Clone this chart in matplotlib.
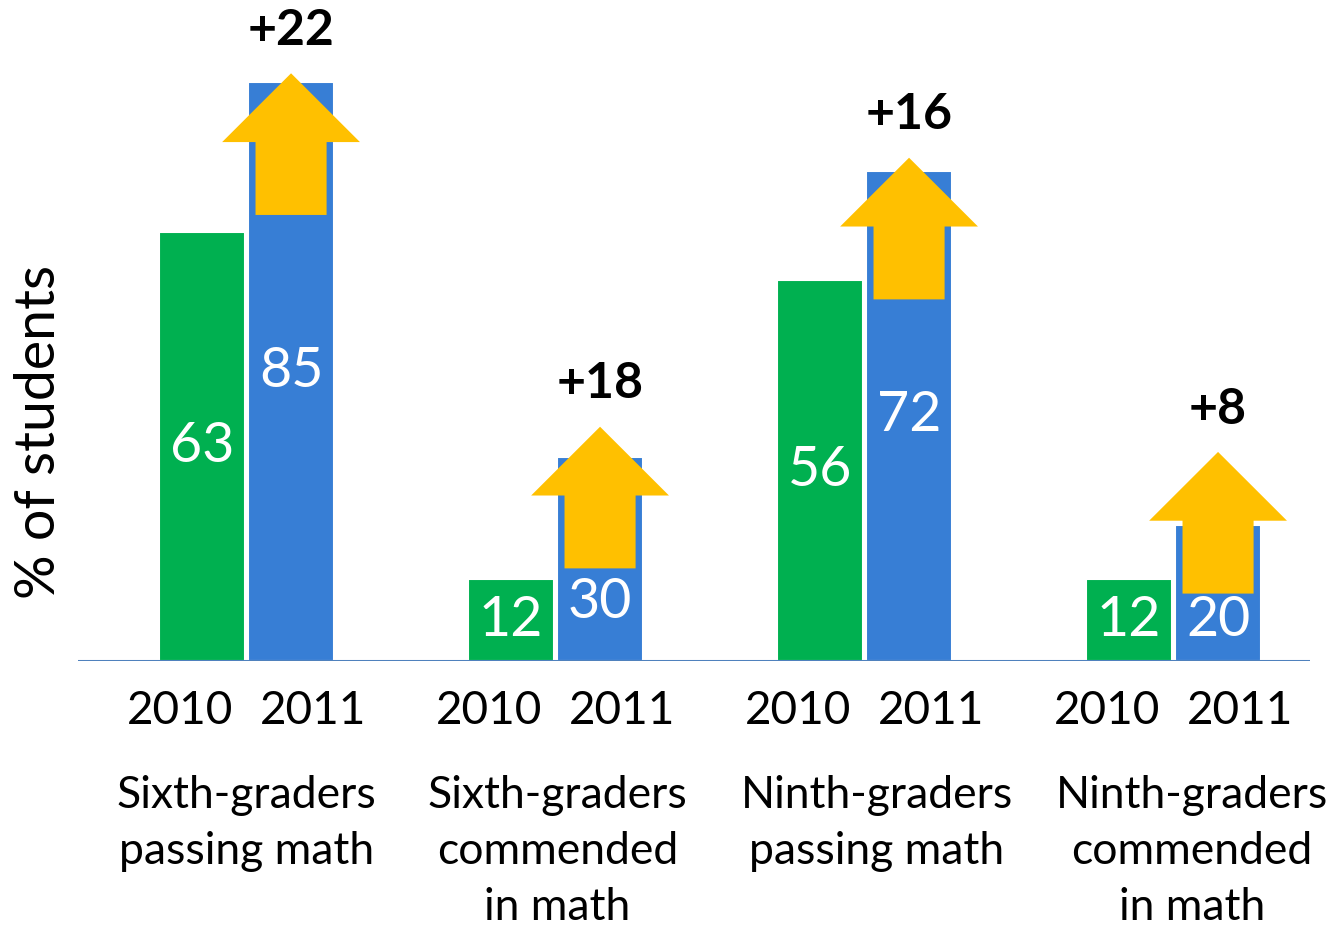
import matplotlib.pyplot as plt
from matplotlib.patches import Polygon

# data
groups = ["Sixth-graders\npassing math", "Sixth-graders\ncommended\nin math",
          "Ninth-graders\npassing math", "Ninth-graders\ncommended\nin math"]
years = ["2010", "2011"]
vals_2010 = [63, 12, 56, 12]
vals_2011 = [85, 30, 72, 20]
changes = ["+22", "+18", "+16", "+8"]

# layout of the yellow arrows (tip in data units) and label nudges
arrow_tips = [86.3, 34.4, 73.9, 30.7]
label_dx = [0.0, 0.007, 0.04, 0.06]
HEAD_H, SHAFT_H = 10.1, 10.7
HEAD_W, SHAFT_W = 0.223, 0.115

GREEN = "#00B050"
BLUE = "#377ED5"
YELLOW = "#FFC000"

plt.rcParams["font.family"] = ["Lato", "DejaVu Sans"]

fig = plt.figure(figsize=(13.34, 9.3), dpi=100)
ax = fig.add_axes([78 / 1334, 269 / 930, 1232 / 1334, 661 / 930])

w = 0.278
off = 0.1445
xs = list(range(len(groups)))
ax.bar([x - off for x in xs], vals_2010, width=w, color=GREEN,
       edgecolor="white", linewidth=1.5, zorder=2)
ax.bar([x + off for x in xs], vals_2011, width=w, color=BLUE,
       edgecolor="white", linewidth=1.5, zorder=2)

for i, x in enumerate(xs):
    tip = arrow_tips[i]
    cx = x + off
    base = tip - HEAD_H
    bottom = base - SHAFT_H
    pts = [(cx, tip), (cx + HEAD_W, base), (cx + SHAFT_W, base),
           (cx + SHAFT_W, bottom), (cx - SHAFT_W, bottom),
           (cx - SHAFT_W, base), (cx - HEAD_W, base)]
    ax.add_patch(Polygon(pts, closed=True, color=YELLOW, zorder=3, lw=0))
    ax.text(cx, tip + 6.3, changes[i], ha="center", va="center",
            fontsize=36, fontweight="bold", color="black")

    v0, v1 = vals_2010[i], vals_2011[i]
    ax.text(x - off, v0 / 2, str(v0), ha="center", va="center",
            fontsize=40, color="white", zorder=4)
    y1 = min(v1 / 2, max(bottom - 5, 6))
    ax.text(cx, y1, str(v1), ha="center", va="center",
            fontsize=40, color="white", zorder=4)

    # year labels and category labels under the axis
    ax.text(x - 0.215, -7.3, years[0], ha="center", va="center", fontsize=33)
    ax.text(x + 0.215, -7.3, years[1], ha="center", va="center", fontsize=33)
    ax.text(x + label_dx[i], -16.8, groups[i], ha="center", va="top",
            fontsize=32, linespacing=1.45)

ax.axhline(0, color="#4F81BD", lw=2.2, zorder=5)
ax.set_xlim(-0.545, -0.545 + 1232 / 309)
ax.set_ylim(0, 661 / 6.81)
ax.axis("off")

fig.text(40 / 1334, 1 - 432 / 930, "% of students", rotation=90,
         ha="center", va="center", fontsize=40)

fig.savefig("out.png", dpi=100)
